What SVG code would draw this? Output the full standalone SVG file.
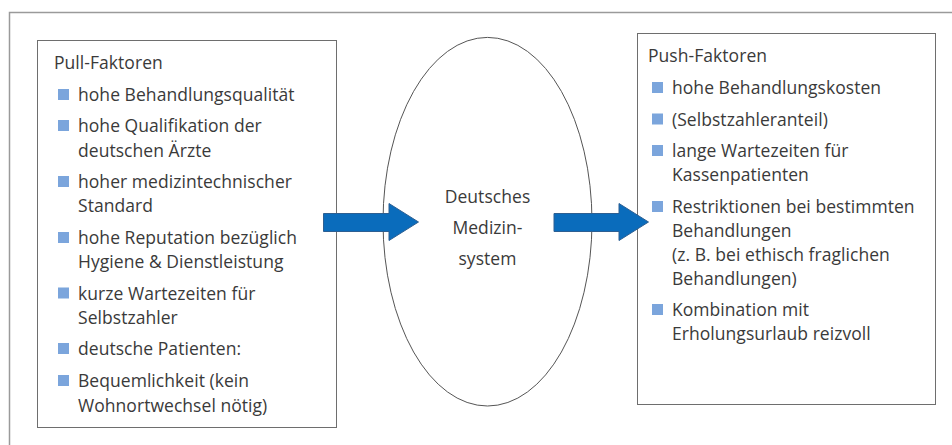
<svg xmlns="http://www.w3.org/2000/svg" width="952" height="445" viewBox="0 0 952 445">
<defs>
<style>
.t{font-family:"Open Sans","Noto Sans","Liberation Sans",sans-serif;font-size:17.5px;fill:#3a3a3a;letter-spacing:0.05px}
.c{text-anchor:middle}
.b{fill:#7ba5dc}
.box{fill:#fff;stroke:#6e6e6e;stroke-width:1}
.arr{fill:#0a6cbc;stroke:#2d5f92;stroke-width:1}
</style>
</defs>
<rect x="0" y="0" width="952" height="445" fill="#fff"/>
<rect id="frame" x="9.5" y="12.5" width="980" height="480" fill="none" stroke="#9a9a9a" stroke-width="1.5"/>
<g id="pull">
<rect class="box" x="37.5" y="40.5" width="299" height="387"/>
<text class="t" x="54" y="69">Pull-Faktoren</text>
<rect class="b" x="58" y="89" width="11" height="11"/>
<text class="t" x="78" y="101">hohe Behandlungsqualität</text>
<rect class="b" x="58" y="120" width="11" height="11"/>
<text class="t" x="78" y="132">hohe Qualifikation der</text>
<text class="t" x="78" y="156.5">deutschen Ärzte</text>
<rect class="b" x="58" y="176" width="11" height="11"/>
<text class="t" x="78" y="188">hoher medizintechnischer</text>
<text class="t" x="78" y="212">Standard</text>
<rect class="b" x="58" y="232" width="11" height="11"/>
<text class="t" x="78" y="244">hohe Reputation bezüglich</text>
<text class="t" x="78" y="268">Hygiene &amp; Dienstleistung</text>
<rect class="b" x="58" y="287.5" width="11" height="11"/>
<text class="t" x="78" y="299.5">kurze Wartezeiten für</text>
<text class="t" x="78" y="323.5">Selbstzahler</text>
<rect class="b" x="58" y="343" width="11" height="11"/>
<text class="t" x="78" y="355">deutsche Patienten:</text>
<rect class="b" x="58" y="375" width="11" height="11"/>
<text class="t" x="78" y="387">Bequemlichkeit (kein</text>
<text class="t" x="78" y="411.5">Wohnortwechsel nötig)</text>
</g>
<g id="system">
<ellipse cx="487.5" cy="221.7" rx="104.5" ry="184.3" fill="none" stroke="#555" stroke-width="1"/>
<text class="t c" x="487.5" y="203">Deutsches</text>
<text class="t c" x="487.5" y="234">Medizin-</text>
<text class="t c" x="487.5" y="265">system</text>
</g>
<g id="push">
<rect class="box" x="637.5" y="33.5" width="298" height="371"/>
<text class="t" x="648" y="62">Push-Faktoren</text>
<rect class="b" x="652" y="82" width="11" height="11"/>
<text class="t" x="672" y="94">hohe Behandlungskosten</text>
<rect class="b" x="652" y="113.5" width="11" height="11"/>
<text class="t" x="672" y="125.5">(Selbstzahleranteil)</text>
<rect class="b" x="652" y="145" width="11" height="11"/>
<text class="t" x="672" y="157">lange Wartezeiten für</text>
<text class="t" x="672" y="181">Kassenpatienten</text>
<rect class="b" x="652" y="201" width="11" height="11"/>
<text class="t" x="672" y="213">Restriktionen bei bestimmten</text>
<text class="t" x="672" y="237">Behandlungen</text>
<text class="t" x="672" y="261">(z. B. bei ethisch fraglichen</text>
<text class="t" x="672" y="285">Behandlungen)</text>
<rect class="b" x="652" y="304" width="11" height="11"/>
<text class="t" x="672" y="316">Kombination mit</text>
<text class="t" x="672" y="340">Erholungsurlaub reizvoll</text>
</g>
<g id="connectors">
<polygon class="arr" points="323.5,213.5 389,213.5 389,203.5 418.5,222 389,240.5 389,231.5 323.5,231.5"/>
<polygon class="arr" points="554,213.5 619,213.5 619,203.5 648.5,222 619,240.5 619,231.5 554,231.5"/>
</g>
</svg>
